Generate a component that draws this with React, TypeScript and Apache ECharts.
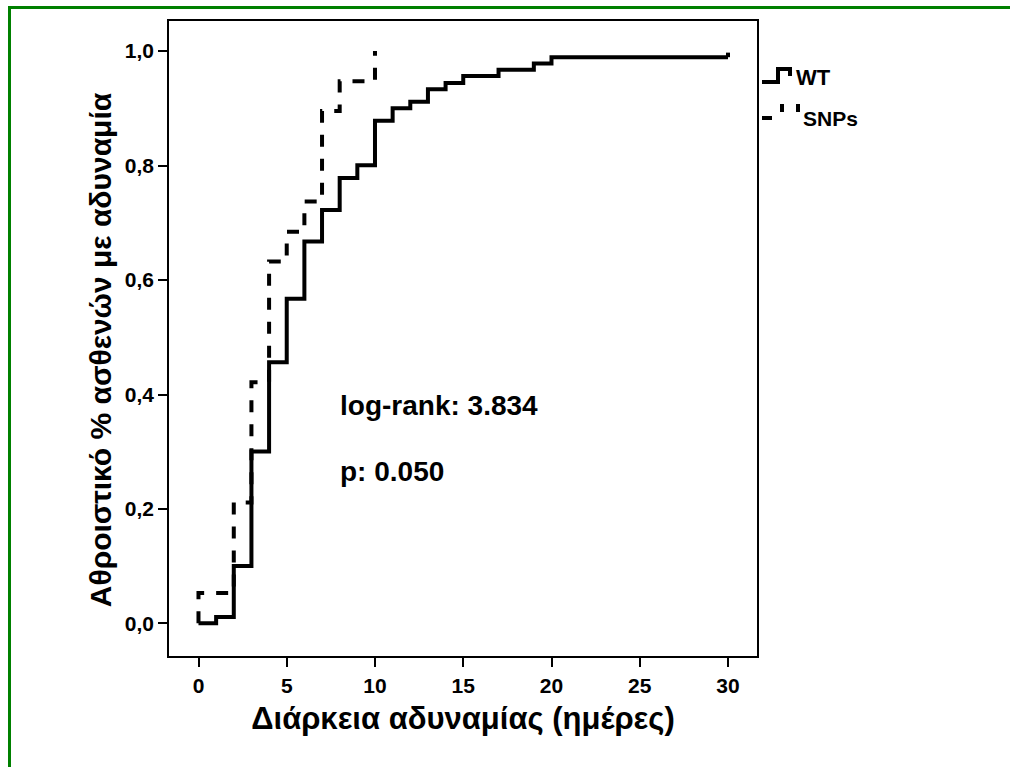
import { useEffect, useRef } from "react";
import * as echarts from "echarts";

const wtDays = [0, 1, 2, 3, 4, 5, 6, 7, 8, 9, 10, 11, 12, 13, 14, 15, 17, 19, 20, 30];
const wtCum = [0, 0.011, 0.1, 0.3, 0.456, 0.567, 0.667, 0.722, 0.778, 0.8, 0.878, 0.9, 0.911, 0.933, 0.944, 0.956, 0.967, 0.978, 0.989, 0.989];
const wtCensorDays = [30, 30];
const wtCensorCum = [0.989, 0.997];
const snpDays = [0, 0, 2, 3, 4, 5, 6, 7, 8, 10];
const snpCum = [0, 0.053, 0.211, 0.421, 0.632, 0.684, 0.737, 0.895, 0.947, 1.0];
const xTicks = [0, 5, 10, 15, 20, 25, 30];
const yTicks = [0, 0.2, 0.4, 0.6, 0.8, 1.0];
const seriesNames = ["WT", "SNPs"];
const statLines = ["log-rank: 3.834", "p: 0.050"];
const xTitle = "Διάρκεια αδυναμίας (ημέρες)";
const yTitle = "Αθροιστικό % ασθενών με αδυναμία";

const FONT = "'Liberation Sans', Arial, sans-serif";

export default function App() {
  const ref = useRef<HTMLDivElement>(null);
  useEffect(() => {
    if (!ref.current) return;
    const chart = echarts.init(ref.current, null, { renderer: "svg" });
    const zip = (a: number[], b: number[]) => a.map((v, i) => [v, b[i]]);
    const black = "#000";
    chart.setOption({
      animation: false,
      backgroundColor: "#fff",
      grid: {
        left: 168,
        right: 252,
        top: 20,
        bottom: 110,
        show: true,
        borderColor: black,
        borderWidth: 2,
        containLabel: false,
      },
      xAxis: {
        type: "value",
        min: -1.727,
        max: 31.7,
        splitLine: { show: false },
        axisLine: { show: true, onZero: false, lineStyle: { color: black, width: 2 } },
        axisTick: { show: true, length: 10, customValues: xTicks, lineStyle: { color: black, width: 2 } },
        axisLabel: {
          customValues: xTicks,
          color: black,
          fontFamily: FONT,
          fontWeight: "bold",
          fontSize: 21,
          margin: 18,
        },
      },
      yAxis: {
        type: "value",
        min: -0.059,
        max: 1.054,
        splitLine: { show: false },
        axisLine: { show: true, onZero: false, lineStyle: { color: black, width: 2 } },
        axisTick: { show: true, length: 10, customValues: yTicks, lineStyle: { color: black, width: 2 } },
        axisLabel: {
          customValues: yTicks,
          color: black,
          fontFamily: FONT,
          fontWeight: "bold",
          fontSize: 21,
          margin: 14,
          formatter: (v: number) => v.toFixed(1).replace(".", ","),
        },
      },
      series: [
        {
          name: seriesNames[0],
          type: "line",
          step: "end",
          data: zip(wtDays, wtCum),
          symbol: "none",
          lineStyle: { color: black, width: 4, join: "miter", cap: "butt" },
          z: 3,
        },
        {
          name: seriesNames[0] + " censored",
          type: "line",
          data: zip(wtCensorDays, wtCensorCum),
          symbol: "none",
          lineStyle: { color: black, width: 4, cap: "butt" },
          z: 3,
        },
        {
          name: seriesNames[1],
          type: "line",
          step: "end",
          data: zip(snpDays, snpCum),
          symbol: "none",
          lineStyle: { color: black, width: 4, type: [12, 12], join: "miter", cap: "butt" },
          z: 2,
        },
      ],
      graphic: [
        { type: "rect", shape: { x: 8, y: 6, width: 1002, height: 3 }, style: { fill: "#008000" } },
        { type: "rect", shape: { x: 8, y: 6, width: 3, height: 761 }, style: { fill: "#008000" } },
        {
          type: "polyline",
          shape: { points: [[762, 82], [778, 82], [778, 69], [790, 69], [790, 76]] },
          style: { stroke: black, lineWidth: 4, fill: null, lineJoin: "miter" },
        },
        { type: "line", shape: { x1: 762, y1: 118, x2: 772, y2: 118 }, style: { stroke: black, lineWidth: 4 } },
        { type: "line", shape: { x1: 782, y1: 104, x2: 782, y2: 112 }, style: { stroke: black, lineWidth: 4 } },
        { type: "line", shape: { x1: 798, y1: 104, x2: 798, y2: 112 }, style: { stroke: black, lineWidth: 4 } },
        {
          type: "text",
          style: { text: seriesNames[0], x: 796, y: 77, font: `bold 22px ${FONT}`, fill: black, textVerticalAlign: "middle" },
        },
        {
          type: "text",
          style: { text: seriesNames[1], x: 803, y: 118, font: `bold 21px ${FONT}`, fill: black, textVerticalAlign: "middle" },
        },
        {
          type: "text",
          style: { text: statLines[0], x: 340, y: 405, font: `bold 28px ${FONT}`, fill: black, textVerticalAlign: "middle" },
        },
        {
          type: "text",
          style: { text: statLines[1], x: 340, y: 471, font: `bold 28px ${FONT}`, fill: black, textVerticalAlign: "middle" },
        },
        {
          type: "text",
          style: { text: xTitle, x: 463, y: 718, font: `bold 31px ${FONT}`, fill: black, textAlign: "center", textVerticalAlign: "middle" },
        },
        {
          type: "text",
          x: 100,
          y: 350,
          rotation: Math.PI / 2,
          style: { text: yTitle, x: 0, y: 0, font: `bold 30px ${FONT}`, fill: black, textAlign: "center", textVerticalAlign: "middle" },
        },
      ],
    });
    return () => chart.dispose();
  }, []);
  return (
    <div
      ref={ref}
      style={{ position: "absolute", left: 0, top: 0, width: 1010, height: 767, background: "#fff" }}
    />
  );
}
